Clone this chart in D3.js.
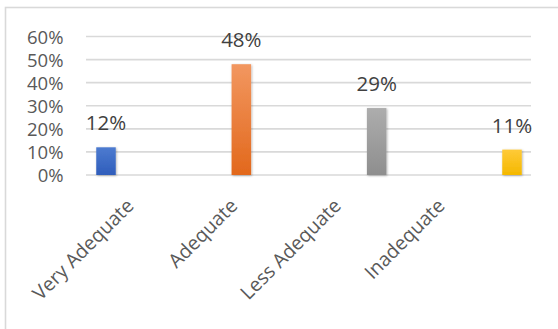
<!DOCTYPE html>
<html>
<head>
<meta charset="utf-8">
<script src="https://cdn.jsdelivr.net/npm/d3@7"></script>
<style>
  html, body { margin: 0; padding: 0; background: #ffffff; }
  svg { display: block; }
</style>
</head>
<body>
<svg id="chart" width="558" height="329"></svg>
<script>
// Ratings of facilities and infrastructure
const categories = ["Very Adequate", "Adequate", "Less Adequate", "Inadequate"];
const values = [0.12, 0.48, 0.29, 0.11];
const yTicks = [0, 0.1, 0.2, 0.3, 0.4, 0.5, 0.6];
const barColors = [
  ["#4d7bd0", "#2f5dbb"],
  ["#f29760", "#e2681c"],
  ["#adadad", "#8e8e8e"],
  ["#ffca38", "#f4b800"]
];

const svg = d3.select("#chart");
const fontFamily = "'Open Sans', 'Noto Sans', sans-serif";

// Chart frame
svg.append("rect")
  .attr("x", 5.5).attr("y", 7.5)
  .attr("width", 620).attr("height", 400)
  .attr("fill", "#ffffff")
  .attr("stroke", "#d9d9d9")
  .attr("stroke-width", 1.6);

const defs = svg.append("defs");
barColors.forEach((c, i) => {
  const g = defs.append("linearGradient")
    .attr("id", "bar-grad-" + i)
    .attr("x1", 0).attr("y1", 0).attr("x2", 0).attr("y2", 1);
  g.append("stop").attr("offset", "0%").attr("stop-color", c[0]);
  g.append("stop").attr("offset", "100%").attr("stop-color", c[1]);
});
const shadow = defs.append("filter").attr("id", "bar-shadow")
  .attr("x", "-50%").attr("y", "-20%").attr("width", "200%").attr("height", "140%");
shadow.append("feDropShadow")
  .attr("dx", 0.8).attr("dy", 0.8)
  .attr("stdDeviation", 1.3)
  .attr("flood-color", "#000000")
  .attr("flood-opacity", 0.3);

// Scales
const y = d3.scaleLinear().domain([0, 0.6]).range([175, 36.5]);
const xBar = d3.scalePoint().domain(categories).range([106, 512]);
const xLabel = d3.scalePoint().domain(categories).range([135, 446]);
const barWidth = 19.5;
const gridLeft = 86, gridRight = 531;

// Gridlines
svg.append("g")
  .selectAll("line")
  .data(yTicks)
  .join("line")
  .attr("x1", gridLeft).attr("x2", gridRight)
  .attr("y1", d => y(d)).attr("y2", d => y(d))
  .attr("stroke", "#d9d9d9")
  .attr("stroke-width", 1.6);

// Y axis labels
const yAxis = d3.axisLeft(y)
  .tickValues(yTicks)
  .tickFormat(d3.format(".0%"))
  .tickSize(0)
  .tickPadding(0);
const yg = svg.append("g")
  .attr("transform", "translate(63.5,0)")
  .call(yAxis);
yg.select(".domain").remove();
yg.selectAll("text")
  .attr("fill", "#595959")
  .attr("font-family", fontFamily)
  .attr("font-size", 18.5)
  .attr("dy", "0.36em");

// Bars
svg.append("g")
  .selectAll("rect")
  .data(values)
  .join("rect")
  .attr("x", (d, i) => xBar(categories[i]) - barWidth / 2)
  .attr("y", d => y(d))
  .attr("width", barWidth)
  .attr("height", d => y(0) - y(d))
  .attr("fill", (d, i) => `url(#bar-grad-${i})`)
  .attr("filter", "url(#bar-shadow)");

// Value labels
svg.append("g")
  .selectAll("text")
  .data(values)
  .join("text")
  .attr("x", (d, i) => xBar(categories[i]))
  .attr("y", d => y(d) - 17)
  .attr("text-anchor", "middle")
  .attr("fill", "#404040")
  .attr("font-family", fontFamily)
  .attr("font-size", 20.5)
  .text(d => d3.format(".0%")(d));

// Rotated category labels
svg.append("g")
  .selectAll("text")
  .data(categories)
  .join("text")
  .attr("transform", d => `translate(${xLabel(d)},207) rotate(-45)`)
  .attr("text-anchor", "end")
  .attr("fill", "#595959")
  .attr("font-family", fontFamily)
  .attr("font-size", 19.5)
  .text(d => d);
</script>
</body>
</html>
